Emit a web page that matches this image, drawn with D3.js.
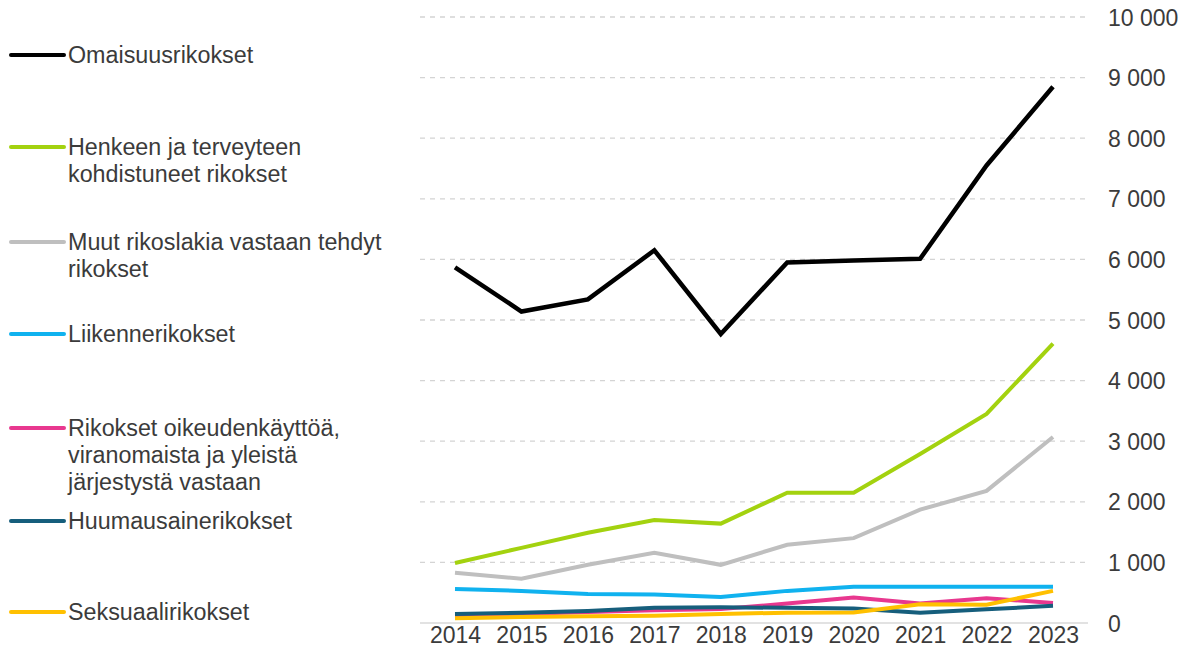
<!DOCTYPE html>
<html>
<head>
<meta charset="utf-8">
<script src="https://cdn.jsdelivr.net/npm/d3@7"></script>
<style>
  html, body { margin: 0; padding: 0; background: #fff; }
  svg { display: block; }
  text { font-family: "Liberation Sans", Arial, sans-serif; fill: #3b3b3b; }
</style>
</head>
<body>
<svg id="chart" width="1188" height="668"></svg>
<script>
const years = [2014, 2015, 2016, 2017, 2018, 2019, 2020, 2021, 2022, 2023];
const yTicks = [0, 1000, 2000, 3000, 4000, 5000, 6000, 7000, 8000, 9000, 10000];

const seriesNames = [
  ["Omaisuusrikokset"],
  ["Henkeen ja terveyteen", "kohdistuneet rikokset"],
  ["Muut rikoslakia vastaan tehdyt", "rikokset"],
  ["Liikennerikokset"],
  ["Rikokset oikeudenkäyttöä,", "viranomaista ja yleistä", "järjestystä vastaan"],
  ["Huumausainerikokset"],
  ["Seksuaalirikokset"]
];
const seriesColors = ["#000000", "#a3d20f", "#bfbfbf", "#10b2ef", "#e8388f", "#165e7c", "#ffc000"];

const omaisuus   = [5870, 5140, 5340, 6150, 4770, 5950, 5980, 6010, 7550, 8850];
const henkeen    = [990, 1240, 1490, 1700, 1640, 2150, 2150, 2790, 3450, 4610];
const muut       = [830, 730, 960, 1160, 960, 1290, 1400, 1870, 2180, 3070];
const liikenne   = [560, 530, 480, 470, 430, 530, 600, 600, 600, 600];
const oikeus     = [120, 150, 180, 210, 230, 320, 420, 320, 410, 330];
const huumaus    = [150, 170, 200, 250, 260, 250, 240, 170, 225, 285];
const seksuaali  = [80, 100, 110, 120, 150, 170, 175, 310, 300, 530];

const seriesValues = [omaisuus, henkeen, muut, liikenne, oikeus, huumaus, seksuaali];
const legendY = [55, 147, 242, 334, 428, 521, 612];

const svg = d3.select("#chart");
const x = d3.scalePoint().domain(years).range([455, 1053]);
const y = d3.scaleLinear().domain([0, 10000]).range([623, 17]);

// gridlines
svg.append("g").selectAll("line")
  .data(yTicks.filter(d => d > 0))
  .join("line")
  .attr("x1", 420).attr("x2", 1088)
  .attr("y1", d => y(d)).attr("y2", d => y(d))
  .attr("stroke", "#d4d4d4").attr("stroke-width", 1.3)
  .attr("stroke-dasharray", "5,5");

// baseline
svg.append("line")
  .attr("x1", 420).attr("x2", 1088)
  .attr("y1", y(0)).attr("y2", y(0))
  .attr("stroke", "#d9d9d9").attr("stroke-width", 1.5);

// right axis labels
const fmt = v => v >= 1000 ? d3.format(",")(v).replace(/,/g, " ") : String(v);
const yAxis = d3.axisRight(y).tickValues(yTicks).tickSize(0).tickPadding(0).tickFormat(fmt);
const ya = svg.append("g").attr("transform", "translate(1108,0)").call(yAxis);
ya.select(".domain").remove();
ya.selectAll("text").attr("font-size", 23).attr("font-family", "Liberation Sans, Arial, sans-serif").attr("fill", "#3b3b3b").attr("dy", "0.35em");

// bottom axis labels
const xAxis = d3.axisBottom(x).tickSize(0).tickPadding(0);
const xa = svg.append("g").attr("transform", "translate(0,627)").call(xAxis);
xa.select(".domain").remove();
xa.selectAll("text").attr("font-size", 23).attr("font-family", "Liberation Sans, Arial, sans-serif").attr("fill", "#3b3b3b").attr("dy", "0.71em");

// lines
const line = d3.line().x((d, i) => x(years[i])).y(d => y(d));
svg.append("g").selectAll("path")
  .data(seriesValues)
  .join("path")
  .attr("d", d => line(d))
  .attr("fill", "none")
  .attr("stroke", (d, i) => seriesColors[i])
  .attr("stroke-width", (d, i) => i === 0 ? 4.5 : 4)
  .attr("stroke-linejoin", "miter")
  .attr("stroke-linecap", "butt");

// legend
const lg = svg.append("g");
seriesNames.forEach((lines, i) => {
  const yy = legendY[i];
  lg.append("line")
    .attr("x1", 11).attr("x2", 64)
    .attr("y1", yy).attr("y2", yy)
    .attr("stroke", seriesColors[i]).attr("stroke-width", 4)
    .attr("stroke-linecap", "round");
  const t = lg.append("text").attr("x", 68).attr("y", yy).attr("font-size", 23.3);
  lines.forEach((s, j) => {
    t.append("tspan").attr("x", 68).attr("dy", j === 0 ? "0.35em" : 26.7).text(s);
  });
});
</script>
</body>
</html>
